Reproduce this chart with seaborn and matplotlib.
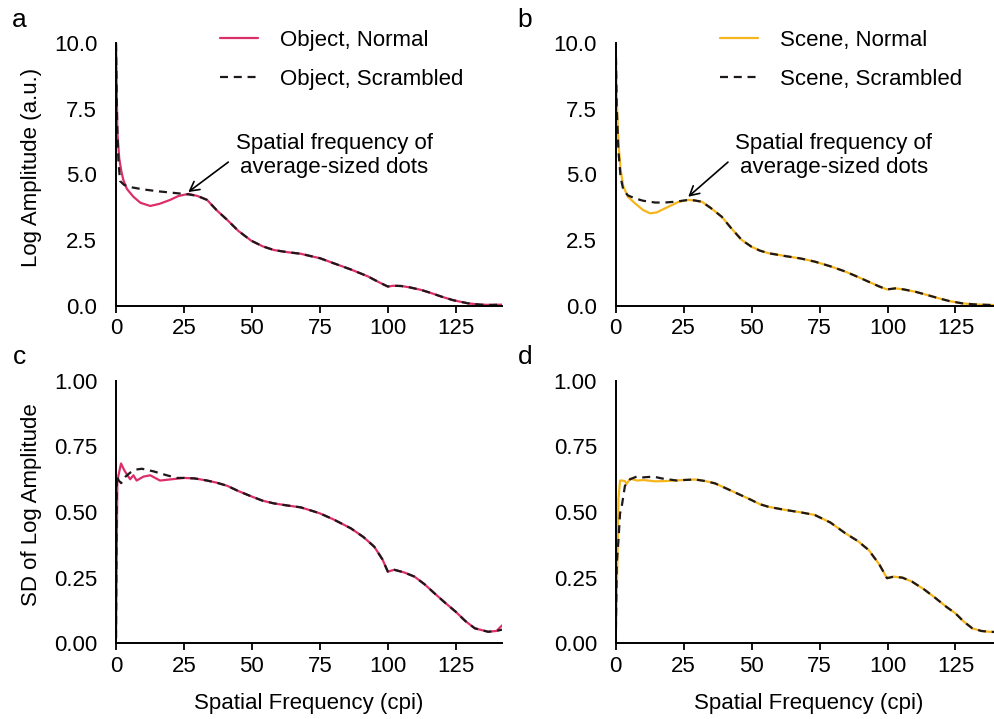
import numpy as np
import pandas as pd
import matplotlib
matplotlib.use("Agg")
import matplotlib.pyplot as plt
import seaborn as sns

sns.set_theme(style="ticks")
plt.rcParams["font.family"] = ["Liberation Sans", "DejaVu Sans"]
plt.rcParams["text.color"] = "black"
plt.rcParams["axes.labelcolor"] = "black"
plt.rcParams["xtick.color"] = "black"
plt.rcParams["ytick.color"] = "black"
ftsize = 16

# ---- data ----
# panel a: object images, log amplitude
obj_norm_low_x = [0, 0.5, 1.2, 2.0, 2.7, 4.0, 6.4, 9.0, 12.6, 16.0, 19.9, 23.0, 26.7]
obj_norm_low_amp = [10.0, 6.6, 5.6, 5.1, 4.79, 4.45, 4.15, 3.92, 3.80, 3.88, 4.03, 4.18, 4.26]
obj_scr_low_x = [0, 0.4, 0.9, 1.5, 3.0, 5.2, 10.0, 16.2, 21.0, 26.7]
obj_scr_low_amp = [10.0, 7.0, 5.5, 4.75, 4.6, 4.52, 4.43, 4.35, 4.30, 4.24]
obj_tail_x = [30, 33.5, 37.2, 40.9, 45, 49.7, 54, 58.1, 63, 67.9, 72, 75, 80, 86.4, 92.6,
              97, 100, 102, 104.9, 108, 112.3, 116, 119.6, 124, 129.5, 134, 138, 142]
obj_tail_amp = [4.18, 4.03, 3.62, 3.27, 2.85, 2.48, 2.26, 2.12, 2.04, 1.98, 1.88, 1.81, 1.62,
                1.38, 1.12, 0.88, 0.73, 0.76, 0.75, 0.70, 0.60, 0.48, 0.35, 0.21, 0.09, 0.04, 0.03, 0.04]

# panel b: scene images, log amplitude
scn_norm_low_x = [0, 0.4, 1.0, 1.8, 2.8, 4.5, 7.1, 10.0, 12.6, 15.0, 19.4, 23.0, 26.7, 29.0]
scn_norm_low_amp = [10.0, 7.8, 6.19, 5.2, 4.54, 4.15, 3.90, 3.65, 3.52, 3.55, 3.77, 3.95, 4.03, 4.01]
scn_scr_low_x = [0, 0.4, 1.0, 1.8, 2.8, 4.5, 7.1, 10.0, 14.5, 18.0, 21.8, 26.7, 29.0]
scn_scr_low_amp = [10.0, 7.5, 5.9, 4.9, 4.41, 4.2, 4.09, 4.0, 3.93, 3.93, 3.96, 4.03, 4.01]
scn_tail_x = [31.7, 35, 39, 42.5, 46.4, 49.9, 53, 56.2, 62.4, 68, 73.2, 79, 84.5, 89, 93.1,
              97, 99.8, 102.9, 106, 110.3, 114.5, 118.9, 123, 127.5, 132, 137, 142]
scn_tail_amp = [3.96, 3.72, 3.39, 2.95, 2.50, 2.25, 2.10, 2.00, 1.89, 1.80, 1.68, 1.50, 1.30,
                1.10, 0.91, 0.73, 0.62, 0.66, 0.62, 0.53, 0.41, 0.28, 0.17, 0.09, 0.05, 0.03, 0.02]

# panel c: object images, SD of log amplitude
obj_norm_sd_low_x = [0, 0.5, 1.85, 3.0, 3.9, 5.2, 6.4, 7.6, 10.1, 12.6, 16.2, 20.6, 25]
obj_norm_sd_low = [0.02, 0.62, 0.685, 0.66, 0.645, 0.625, 0.64, 0.62, 0.635, 0.64, 0.62, 0.625, 0.63]
obj_scr_sd_low_x = [0, 0.3, 1.0, 1.9, 3.5, 5.2, 7.5, 9.5, 13.8, 18.7, 22.4, 25]
obj_scr_sd_low = [0.02, 0.64, 0.62, 0.61, 0.635, 0.65, 0.662, 0.665, 0.655, 0.64, 0.63, 0.63]
obj_sd_tail_x = [29, 33.5, 37, 40.9, 45, 49.7, 54, 58.1, 63, 67.9, 72, 75, 80, 86.4, 91, 95,
                 98, 100, 102.4, 106, 109.8, 113.5, 117.2, 121, 125, 128.5, 132, 136.9, 140]
obj_sd_tail = [0.628, 0.62, 0.612, 0.60, 0.58, 0.56, 0.543, 0.533, 0.525, 0.518, 0.505, 0.495,
               0.472, 0.438, 0.405, 0.368, 0.32, 0.273, 0.28, 0.27, 0.254, 0.225, 0.19, 0.155,
               0.12, 0.085, 0.057, 0.044, 0.047]
obj_norm_sd_end_x = [142]
obj_norm_sd_end = [0.068]
obj_scr_sd_end_x = [142]
obj_scr_sd_end = [0.052]

# panel d: scene images, SD of log amplitude
scn_norm_sd_low_x = [0, 0.6, 1.0, 1.6, 2.4, 3.4, 4.0, 5.3, 8.0, 10.2, 14.5, 18.0, 21.8, 25]
scn_norm_sd_low = [0.0, 0.30, 0.55, 0.62, 0.62, 0.618, 0.607, 0.627, 0.62, 0.622, 0.617, 0.618, 0.62, 0.622]
scn_scr_sd_low_x = [0, 0.4, 1.0, 1.6, 2.2, 2.8, 3.4, 4.6, 5.3, 7.7, 10.0, 13.9, 17.0, 22.5, 25]
scn_scr_sd_low = [0.0, 0.305, 0.39, 0.495, 0.52, 0.56, 0.60, 0.615, 0.625, 0.635, 0.632, 0.635,
                  0.628, 0.62, 0.622]
scn_sd_tail_x = [29.2, 33, 36.6, 41.5, 45.5, 49.9, 53, 56.2, 62.4, 68, 73.2, 79, 84.5, 89, 93.1,
                 97, 99.8, 102.3, 105.5, 109, 113.5, 117.8, 121.5, 125, 128, 131.2, 134.5, 137.3, 142]
scn_sd_tail = [0.624, 0.618, 0.609, 0.586, 0.567, 0.546, 0.53, 0.52, 0.508, 0.499, 0.489, 0.46,
               0.419, 0.39, 0.355, 0.30, 0.248, 0.254, 0.25, 0.235, 0.205, 0.171, 0.14, 0.114,
               0.083, 0.057, 0.047, 0.044, 0.042]

obj_labels = ["Object, Normal", "Object, Scrambled"]
scn_labels = ["Scene, Normal", "Scene, Scrambled"]
pink = "#dc2e6b"
yellow = "#f7b51c"
dark = "#1e1818"


def make_frame(labels, norm_x, norm_y, scr_x, scr_y):
    return pd.concat([
        pd.DataFrame({"freq": norm_x, "val": norm_y, "cond": labels[0]}),
        pd.DataFrame({"freq": scr_x, "val": scr_y, "cond": labels[1]}),
    ], ignore_index=True)


df_a = make_frame(obj_labels, obj_norm_low_x + obj_tail_x, obj_norm_low_amp + obj_tail_amp,
                  obj_scr_low_x + obj_tail_x, obj_scr_low_amp + obj_tail_amp)
df_b = make_frame(scn_labels, scn_norm_low_x + scn_tail_x, scn_norm_low_amp + scn_tail_amp,
                  scn_scr_low_x + scn_tail_x, scn_scr_low_amp + scn_tail_amp)
df_c = make_frame(obj_labels, obj_norm_sd_low_x + obj_sd_tail_x + obj_norm_sd_end_x,
                  obj_norm_sd_low + obj_sd_tail + obj_norm_sd_end,
                  obj_scr_sd_low_x + obj_sd_tail_x + obj_scr_sd_end_x,
                  obj_scr_sd_low + obj_sd_tail + obj_scr_sd_end)
df_d = make_frame(scn_labels, scn_norm_sd_low_x + scn_sd_tail_x, scn_norm_sd_low + scn_sd_tail,
                  scn_scr_sd_low_x + scn_sd_tail_x, scn_scr_sd_low + scn_sd_tail)

fig = plt.figure(figsize=(9.95, 7.19), dpi=100)
W, H = 995., 719.
ax_w = 386. / W
ax_h = 262.5 / H
axs = {
    "a": fig.add_axes([116 / W, 1 - 305.7 / H, ax_w, ax_h]),
    "b": fig.add_axes([615.7 / W, 1 - 305.7 / H, ax_w, ax_h]),
    "c": fig.add_axes([116 / W, 1 - 643.3 / H, ax_w, ax_h]),
    "d": fig.add_axes([615.7 / W, 1 - 643.3 / H, ax_w, ax_h]),
}

panels = [("a", df_a, obj_labels, pink), ("b", df_b, scn_labels, yellow),
          ("c", df_c, obj_labels, pink), ("d", df_d, scn_labels, yellow)]

for name, df, labels, col in panels:
    ax = axs[name]
    sns.lineplot(data=df, x="freq", y="val", hue="cond", style="cond", hue_order=labels,
                 style_order=labels, palette={labels[0]: col, labels[1]: dark},
                 dashes={labels[0]: "", labels[1]: (3.6, 2.6)}, estimator=None, sort=False,
                 linewidth=1.6, ax=ax, legend=(name in "ab"))
    sns.despine(ax=ax)
    ax.set_xlim(0, 142)
    ax.set_xticks([0, 25, 50, 75, 100, 125])
    for sp in ["left", "bottom"]:
        ax.spines[sp].set_linewidth(1.4)
        ax.spines[sp].set_color("black")
    ax.tick_params(axis="x", length=5, width=1.3, pad=4, labelsize=ftsize, color="black")
    ax.tick_params(axis="y", length=0, pad=13.5, labelsize=ftsize)
    ax.set_xlabel("")
    ax.set_ylabel("")
    if name in "ab":
        ax.set_ylim(0, 10)
        ax.set_yticks([0, 2.5, 5, 7.5, 10])
        ax.set_yticklabels(["0.0", "2.5", "5.0", "7.5", "10.0"])
    else:
        ax.set_ylim(0, 1)
        ax.set_yticks([0, 0.25, 0.5, 0.75, 1.0])
        ax.set_yticklabels(["0.00", "0.25", "0.50", "0.75", "1.00"])
        ax.set_xlabel("Spatial Frequency (cpi)", fontsize=ftsize)
        ax.xaxis.set_label_coords(0.5, -0.19)

# legends
leg_x = {"a": 220 / W, "b": 720 / W}
for name in "ab":
    ax = axs[name]
    h, l = ax.get_legend_handles_labels()
    ax.legend(h, l, frameon=False, loc="upper left", bbox_to_anchor=(leg_x[name], 1 - 30 / H),
              bbox_transform=fig.transFigure, fontsize=ftsize, handlelength=1.7,
              handletextpad=1.0, labelspacing=0.8, borderpad=0, borderaxespad=0)

# annotation about the dot-size peak
arrow_tip = {"a": (26.6, 4.33), "b": (26.7, 4.15)}
for name in "ab":
    ax = axs[name]
    ax.text(80.2, 5.72, "Spatial frequency of\naverage-sized dots", ha="center", va="center",
            fontsize=ftsize, linespacing=1.2)
    ax.annotate("", xy=arrow_tip[name], xytext=(41.3, 5.47),
                arrowprops=dict(arrowstyle="->,head_length=0.55,head_width=0.3", color="black",
                                lw=1.2, shrinkA=0, shrinkB=0))

axs["a"].set_ylabel("Log Amplitude (a.u.)", fontsize=ftsize)
axs["a"].yaxis.set_label_coords(-0.193, 0.525)
axs["c"].set_ylabel("SD of Log Amplitude", fontsize=ftsize)
axs["c"].yaxis.set_label_coords(-0.193, 0.527)

# panel letters
for name, (px, py) in {"a": (19, 20), "b": (525, 20), "c": (19, 357), "d": (525, 357)}.items():
    fig.text(px / W, 1 - py / H, name, fontsize=19, ha="center", va="center")

fig.savefig("out.png", dpi=100)
